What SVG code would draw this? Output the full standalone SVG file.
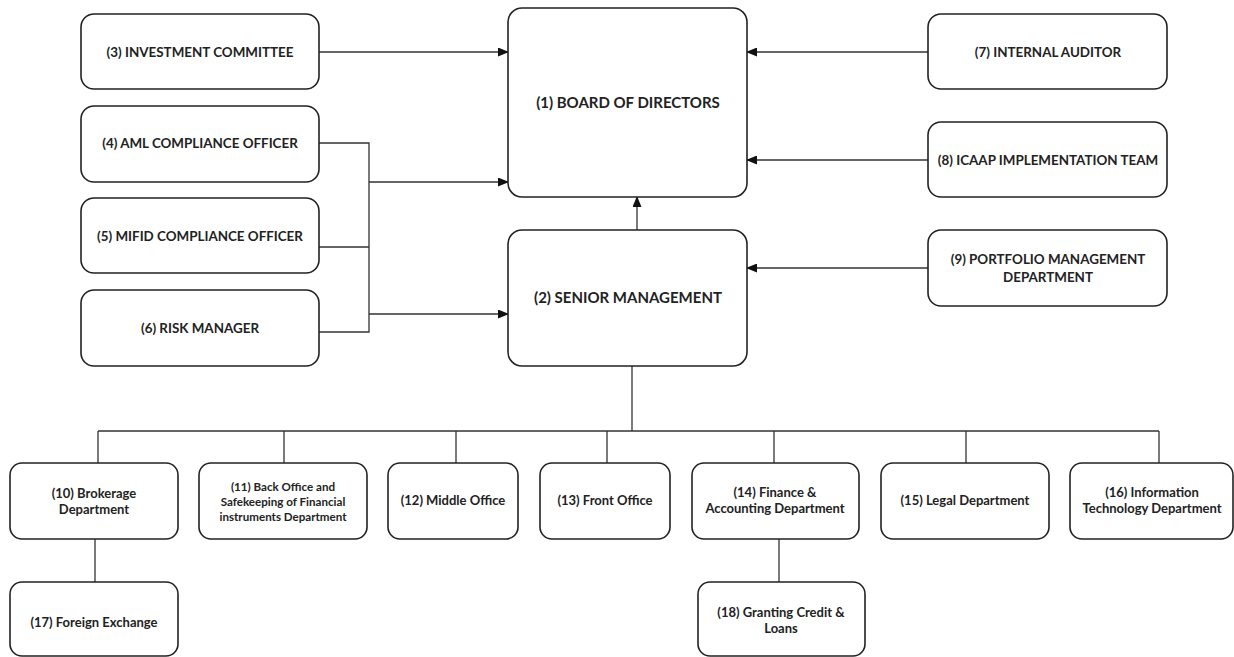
<svg xmlns="http://www.w3.org/2000/svg" width="1234" height="657" viewBox="0 0 1234 657">
<style>
  .box { fill: #ffffff; stroke: #222222; stroke-width: 1.6; }
  .line { fill: none; stroke: #333333; stroke-width: 1.3; }
  .arr { fill: none; stroke: #333333; stroke-width: 1.3; marker-end: url(#ah); }
  .t { font-family: Lato, "Open Sans", "Liberation Sans", sans-serif; font-weight: bold; fill: #222222; text-anchor: middle; }
  .top { font-size: 13.4px; }
  .big { font-size: 15px; }
  .low { font-size: 13px; }
  .small { font-size: 11.6px; }
</style>
<defs>
  <marker id="ah" markerWidth="11" markerHeight="9" refX="10" refY="4.5" orient="auto" markerUnits="userSpaceOnUse">
    <path d="M0,0 L11,4.5 L0,9 Z" fill="#111111"/>
  </marker>
</defs>
<rect width="1234" height="657" fill="#ffffff"/>

<g id="connectors">
  <line class="arr" x1="319" y1="52" x2="508" y2="52"/>
  <line class="arr" x1="928" y1="52" x2="747" y2="52"/>
  <line class="arr" x1="928" y1="160" x2="747" y2="160"/>
  <line class="arr" x1="928" y1="268" x2="747" y2="268"/>
  <line class="arr" x1="637" y1="230" x2="637" y2="197"/>
  <polyline class="line" points="319,143 369,143 369,332 319,332"/>
  <line class="line" x1="319" y1="247" x2="369" y2="247"/>
  <line class="arr" x1="369" y1="182" x2="508" y2="182"/>
  <line class="arr" x1="369" y1="314" x2="508" y2="314"/>
  <line class="line" x1="632" y1="366" x2="632" y2="431"/>
  <line class="line" x1="98" y1="431" x2="1159" y2="431"/>
  <line class="line" x1="98" y1="431" x2="98" y2="463"/>
  <line class="line" x1="284" y1="431" x2="284" y2="463"/>
  <line class="line" x1="456" y1="431" x2="456" y2="463"/>
  <line class="line" x1="607" y1="431" x2="607" y2="463"/>
  <line class="line" x1="774" y1="431" x2="774" y2="463"/>
  <line class="line" x1="966" y1="431" x2="966" y2="463"/>
  <line class="line" x1="1159" y1="431" x2="1159" y2="463"/>
  <line class="line" x1="95" y1="539" x2="95" y2="582"/>
  <line class="line" x1="779" y1="539" x2="779" y2="582"/>
</g>

<g id="n1"><rect class="box" x="508" y="8" width="239" height="189" rx="14"/>
  <text class="t big" x="628" y="108">(1) BOARD OF DIRECTORS</text></g>
<g id="n2"><rect class="box" x="508" y="230" width="239" height="136" rx="14"/>
  <text class="t big" x="628" y="303">(2) SENIOR MANAGEMENT</text></g>
<g id="n3"><rect class="box" x="81" y="14" width="238" height="75" rx="13"/>
  <text class="t top" x="200" y="57">(3) INVESTMENT COMMITTEE</text></g>
<g id="n4"><rect class="box" x="81" y="106" width="238" height="76" rx="13"/>
  <text class="t top" x="200" y="148">(4) AML COMPLIANCE OFFICER</text></g>
<g id="n5"><rect class="box" x="81" y="198" width="238" height="75" rx="13"/>
  <text class="t top" x="200" y="241">(5) MIFID COMPLIANCE OFFICER</text></g>
<g id="n6"><rect class="box" x="81" y="290" width="238" height="76" rx="13"/>
  <text class="t top" x="200" y="333">(6) RISK MANAGER</text></g>
<g id="n7"><rect class="box" x="928" y="14" width="239" height="75" rx="13"/>
  <text class="t top" x="1048" y="57">(7) INTERNAL AUDITOR</text></g>
<g id="n8"><rect class="box" x="928" y="122" width="239" height="75" rx="13"/>
  <text class="t top" x="1048" y="165">(8) ICAAP IMPLEMENTATION TEAM</text></g>
<g id="n9"><rect class="box" x="928" y="230" width="239" height="76" rx="13"/>
  <text class="t top" x="1048" y="264">(9) PORTFOLIO MANAGEMENT</text>
  <text class="t top" x="1048" y="282">DEPARTMENT</text></g>

<g id="n10"><rect class="box" x="10" y="463" width="168" height="76" rx="12"/>
  <text class="t low" x="94" y="498">(10) Brokerage</text>
  <text class="t low" x="94" y="514">Department</text></g>
<g id="n11"><rect class="box" x="199" y="463" width="168" height="76" rx="12"/>
  <text class="t small" x="283" y="491">(11) Back Office and</text>
  <text class="t small" x="283" y="506">Safekeeping of Financial</text>
  <text class="t small" x="283" y="521">instruments Department</text></g>
<g id="n12"><rect class="box" x="388" y="463" width="130" height="76" rx="12"/>
  <text class="t low" x="453" y="505">(12) Middle Office</text></g>
<g id="n13"><rect class="box" x="540" y="463" width="130" height="76" rx="12"/>
  <text class="t low" x="605" y="505">(13) Front Office</text></g>
<g id="n14"><rect class="box" x="692" y="463" width="167" height="76" rx="12"/>
  <text class="t low" x="775" y="497">(14) Finance &amp;</text>
  <text class="t low" x="775" y="513">Accounting Department</text></g>
<g id="n15"><rect class="box" x="881" y="463" width="168" height="76" rx="12"/>
  <text class="t low" x="965" y="505">(15) Legal Department</text></g>
<g id="n16"><rect class="box" x="1070" y="463" width="163" height="76" rx="12"/>
  <text class="t low" x="1152" y="497">(16) Information</text>
  <text class="t low" x="1152" y="513">Technology Department</text></g>
<g id="n17"><rect class="box" x="10" y="582" width="168" height="74" rx="12"/>
  <text class="t low" x="94" y="627">(17) Foreign Exchange</text></g>
<g id="n18"><rect class="box" x="698" y="582" width="167" height="74" rx="12"/>
  <text class="t low" x="781" y="617">(18) Granting Credit &amp;</text>
  <text class="t low" x="781" y="633">Loans</text></g>
</svg>
